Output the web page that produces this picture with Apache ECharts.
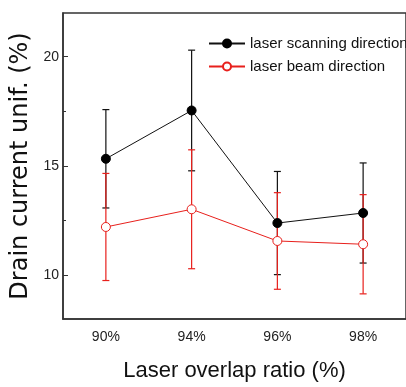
<!DOCTYPE html>
<html><head><meta charset="utf-8">
<script src="https://cdn.jsdelivr.net/npm/echarts@6/dist/echarts.min.js"></script>
<style>html,body{margin:0;padding:0;background:#fff}#c{width:406px;height:387px}</style>
</head><body><div id="c"></div>
<script>
var categories = ['90%', '94%', '96%', '98%'];
var scanMean = [15.33, 17.54, 12.39, 12.85];
var scanErr = [2.25, 2.76, 2.36, 2.29];
var beamMean = [12.21, 13.02, 11.57, 11.42];
var beamErr = [2.45, 2.72, 2.21, 2.27];
var yMajorTicks = [10, 15, 20];
var yMinorTicks = [12.5, 17.5];
var scanName = 'laser scanning direction';
var beamName = 'laser beam direction';

function errData(mean, err) {
  return mean.map(function (m, i) { return [i, m - err[i], m + err[i]]; });
}
function errRender(color) {
  return function (params, api) {
    var lo = api.coord([api.value(0), api.value(1)]);
    var hi = api.coord([api.value(0), api.value(2)]);
    var w = 3.5;
    var st = { stroke: color, lineWidth: 1.2 };
    return { type: 'group', children: [
      { type: 'line', shape: { x1: lo[0], y1: lo[1], x2: hi[0], y2: hi[1] }, style: st },
      { type: 'line', shape: { x1: lo[0] - w, y1: lo[1], x2: lo[0] + w, y2: lo[1] }, style: st },
      { type: 'line', shape: { x1: hi[0] - w, y1: hi[1], x2: hi[0] + w, y2: hi[1] }, style: st }
    ]};
  };
}

var chart = echarts.init(document.getElementById('c'), null, { renderer: 'canvas' });
var axisCol = '#333';
chart.setOption({
  animation: false,
  backgroundColor: '#fff',
  grid: { left: 63, top: 13, width: 348, height: 313, show: true, borderColor: axisCol, borderWidth: 1.5, containLabel: false },
  legend: {
    left: 203, top: 31, orient: 'vertical', itemWidth: 36, itemHeight: 10, itemGap: 8,
    data: [scanName, beamName],
    textStyle: { fontFamily: '"Liberation Sans", Arial, sans-serif', fontSize: 15, color: '#111' }
  },
  xAxis: [{
    type: 'category', data: categories, boundaryGap: true,
    axisLine: { lineStyle: { color: axisCol, width: 1.5 } },
    axisTick: { alignWithLabel: true, inside: true, length: 6, lineStyle: { color: axisCol } },
    axisLabel: { fontFamily: '"Liberation Sans", Arial, sans-serif', fontSize: 14, color: '#222', margin: 11 },
    name: 'Laser overlap ratio (%)', nameLocation: 'middle', nameGap: 41,
    nameTextStyle: { fontFamily: '"Liberation Sans", Arial, sans-serif', fontSize: 22, color: '#111' }
  }, {
    type: 'category', data: categories, boundaryGap: true, position: 'bottom',
    axisLine: { show: false },
    axisTick: { inside: true, length: 3, lineStyle: { color: axisCol } },
    axisLabel: { show: false }
  }],
  yAxis: [{
    type: 'value', min: 8, max: 22,
    axisLine: { show: true, lineStyle: { color: axisCol, width: 1.5 } },
    axisTick: { show: true, inside: true, length: 5, customValues: yMajorTicks, lineStyle: { color: axisCol } },
    axisLabel: { customValues: yMajorTicks, fontFamily: '"Liberation Sans", Arial, sans-serif', fontSize: 14, color: '#222', margin: 4 },
    splitLine: { show: false },
    name: 'Drain current unif. (%)', nameLocation: 'middle', nameGap: 19,
    nameTextStyle: { fontFamily: '"DejaVu Sans", sans-serif', fontSize: 24, color: '#111' }
  }, {
    type: 'value', min: 8, max: 22, position: 'left',
    axisLine: { show: false },
    axisTick: { show: true, inside: true, length: 3, customValues: yMinorTicks, lineStyle: { color: axisCol } },
    axisLabel: { show: false },
    splitLine: { show: false }
  }],
  series: [
    { type: 'custom', name: 'scanErr', renderItem: errRender('#111'), data: errData(scanMean, scanErr), z: 1, encode: { x: 0, y: [1, 2] } },
    { type: 'custom', name: 'beamErr', renderItem: errRender('#e8201c'), data: errData(beamMean, beamErr), z: 2, encode: { x: 0, y: [1, 2] } },
    { type: 'line', name: beamName, data: beamMean, symbol: 'circle', symbolSize: 9, z: 3,
      lineStyle: { color: '#e8201c', width: 1 }, itemStyle: { color: '#fff', borderColor: '#e8201c', borderWidth: 1 } },
    { type: 'line', name: scanName, data: scanMean, symbol: 'circle', symbolSize: 9, z: 4,
      lineStyle: { color: '#111', width: 1 }, itemStyle: { color: '#000', borderColor: '#000', borderWidth: 1 } }
  ]
});
</script></body></html>
